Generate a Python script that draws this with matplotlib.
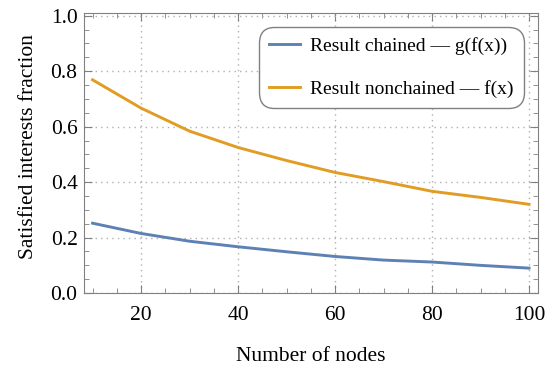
import matplotlib
matplotlib.use("Agg")
import matplotlib.pyplot as plt
from matplotlib.ticker import MultipleLocator

# data
nodes = [10, 20, 30, 40, 50, 60, 70, 80, 90, 100]
chained = [0.252, 0.215, 0.187, 0.167, 0.149, 0.132, 0.119, 0.112, 0.100, 0.090]
nonchained = [0.769, 0.667, 0.584, 0.525, 0.478, 0.435, 0.402, 0.367, 0.345, 0.320]

plt.rcParams['font.family'] = ['Liberation Serif', 'DejaVu Serif']

fig = plt.figure(figsize=(5.59, 3.71), dpi=100)
ax = fig.add_axes([0.150, 0.210, 0.812, 0.755])

ax.plot(nodes, chained, color='#5E81B5', lw=2.1, label='Result chained \u2014 g(f(x))')
ax.plot(nodes, nonchained, color='#E19C24', lw=2.1, label='Result nonchained \u2014 f(x)')

ax.set_xlim(8.2, 101.8)
ax.set_ylim(0, 1.01)
ax.xaxis.set_major_locator(MultipleLocator(20))
ax.xaxis.set_minor_locator(MultipleLocator(5))
ax.yaxis.set_major_locator(MultipleLocator(0.2))
ax.yaxis.set_minor_locator(MultipleLocator(0.05))
ax.yaxis.set_major_formatter(plt.FuncFormatter(lambda v, p: '%.1f' % v))

ax.grid(True, which='major', ls=(0, (1, 3)), color='#b0b0b0', lw=1.0)
for s in ax.spines.values():
    s.set_color('#808080')
ax.tick_params(which='both', direction='in', top=True, right=True, color='#808080',
               labelsize=15.5)
ax.tick_params(which='major', length=6)
ax.tick_params(which='minor', length=3.5)
ax.tick_params(axis='x', pad=9)
ax.tick_params(axis='y', pad=4.5)

ax.set_xlabel('Number of nodes', fontsize=15.5, labelpad=16)
ax.set_ylabel('Satisfied interests fraction', fontsize=15.5)
ax.yaxis.set_label_coords(-0.10, 0.523)

leg = ax.legend(loc='upper right', bbox_to_anchor=(0.969, 0.95), borderaxespad=0,
                fontsize=14, handlelength=1.6, labelspacing=1.3, fancybox=True,
                framealpha=1, edgecolor='#808080', handletextpad=0.55,
                borderpad=0.5)
leg.get_frame().set_boxstyle('round', pad=0.0, rounding_size=0.8)

fig.savefig('out.png', dpi=100)
